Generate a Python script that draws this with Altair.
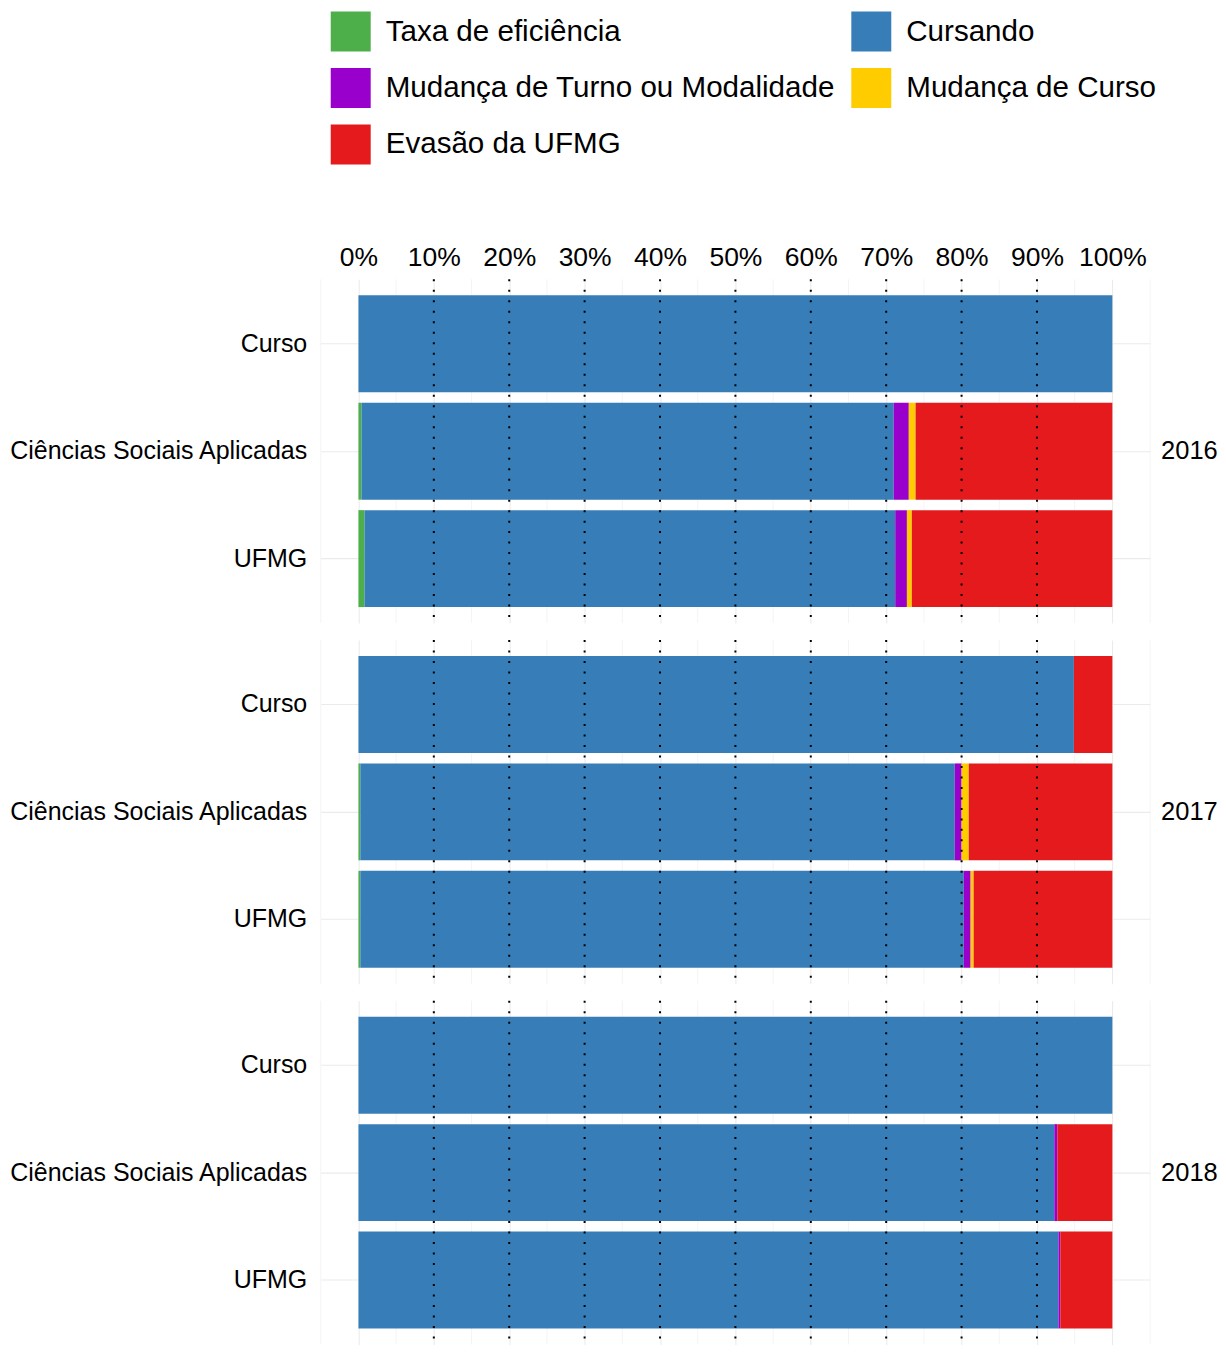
import altair as alt
import pandas as pd

years = ["2016", "2017", "2018"]
groups = ["Curso", "Ciências Sociais Aplicadas", "UFMG"]
series = ["Taxa de eficiência", "Cursando", "Mudança de Turno ou Modalidade",
          "Mudança de Curso", "Evasão da UFMG"]
colors = ["#4DAF4A", "#377EB8", "#9900CC", "#FFCC00", "#E41A1C"]

# values (%) per year, in the order of `groups`
taxa = {"2016": [0.0, 0.4, 0.8], "2017": [0.0, 0.25, 0.25], "2018": [0.0, 0.0, 0.0]}
cursando = {"2016": [100.0, 70.6, 70.4], "2017": [94.9, 78.85, 80.05], "2018": [100.0, 92.3, 92.85]}
turno = {"2016": [0.0, 2.0, 1.55], "2017": [0.0, 0.9, 0.9], "2018": [0.0, 0.4, 0.25]}
mud_curso = {"2016": [0.0, 0.9, 0.65], "2017": [0.0, 0.95, 0.4], "2018": [0.0, 0.0, 0.0]}
evasao = {"2016": [0.0, 26.1, 26.6], "2017": [5.1, 19.05, 18.4], "2018": [0.0, 7.3, 6.9]}

ref_lines = [10, 20, 30, 40, 50, 60, 70, 80, 90]
major_ticks = [0, 10, 20, 30, 40, 50, 60, 70, 80, 90, 100]
minor_ticks = [-5, 5, 15, 25, 35, 45, 55, 65, 75, 85, 95, 105]

rows = []
for y in years:
    for gi, g in enumerate(groups):
        for si, (s, d) in enumerate(zip(series, [taxa, cursando, turno, mud_curso, evasao])):
            rows.append({"kind": "bar", "Ano": y, "Grupo": g, "Serie": s,
                         "valor": d[y][gi], "ordem": si, "pos": None})
    for r in ref_lines:
        rows.append({"kind": "ref", "Ano": y, "Grupo": None, "Serie": None,
                     "valor": None, "ordem": None, "pos": r})
    for m in minor_ticks:
        rows.append({"kind": "minor", "Ano": y, "Grupo": None, "Serie": None,
                     "valor": None, "ordem": None, "pos": m})
df = pd.DataFrame(rows)

xscale = alt.Scale(domain=[-5, 105], nice=False, zero=False)

minor = alt.Chart().mark_rule(color="#EBEBEB", strokeWidth=0.55).encode(
    x=alt.X("pos:Q", scale=xscale)
).transform_filter(alt.datum.kind == "minor")

bars = alt.Chart().mark_bar(size=97).encode(
    x=alt.X("valor:Q", stack="zero", scale=xscale,
            axis=alt.Axis(orient="top", values=major_ticks, format="d",
                          labelExpr="datum.label + '%'",
                          grid=True, gridColor="#EBEBEB", gridWidth=1.1,
                          domain=False, ticks=False, labelFontSize=26.5,
                          labelColor="#000000", labelPadding=7, title=None,
                          labelFont="Liberation Sans")),
    y=alt.Y("Grupo:N", sort=groups,
            scale=alt.Scale(paddingInner=0.1, paddingOuter=0.15),
            axis=alt.Axis(grid=True, gridColor="#EBEBEB", gridWidth=1.1, bandPosition=0.5,
                          tickExtra=False,
                          domain=False, ticks=False, labelFontSize=25, labelColor="#000000",
                          labelPadding=13, labelLimit=500, title=None,
                          labelFont="Liberation Sans")),
    color=alt.Color("Serie:N", scale=alt.Scale(domain=series, range=colors),
                    legend=alt.Legend(title=None, orient="none", legendX=10, legendY=-268,
                                      columns=2, direction="horizontal",
                                      symbolType="square", symbolSize=1600,
                                      symbolStrokeWidth=0, symbolOpacity=1,
                                      labelFontSize=29.6, labelFont="Liberation Sans",
                                      labelColor="#000000", labelOffset=15,
                                      labelLimit=600, rowPadding=16.5, columnPadding=16)),
    order=alt.Order("ordem:Q"),
).transform_filter(alt.datum.kind == "bar")

refs = alt.Chart().mark_rule(color="#000000", strokeWidth=2, strokeDash=[2, 8.5]).encode(
    x=alt.X("pos:Q", scale=xscale)
).transform_filter(alt.datum.kind == "ref")

chart = alt.layer(minor, bars, refs, data=df).properties(width=830, height=344).facet(
    row=alt.Row("Ano:N", sort=years,
                header=alt.Header(title=None, labelOrient="right", labelAngle=0,
                                  labelFontSize=25.5, labelFont="Liberation Sans",
                                  labelColor="#000000", labelPadding=10)),
    spacing=15,
).properties(padding={"left": 0, "top": 3, "right": 0, "bottom": 0}, background="white"
).configure_view(stroke=None)

chart.save("out.html", embed_options={"renderer": "svg", "actions": False})
